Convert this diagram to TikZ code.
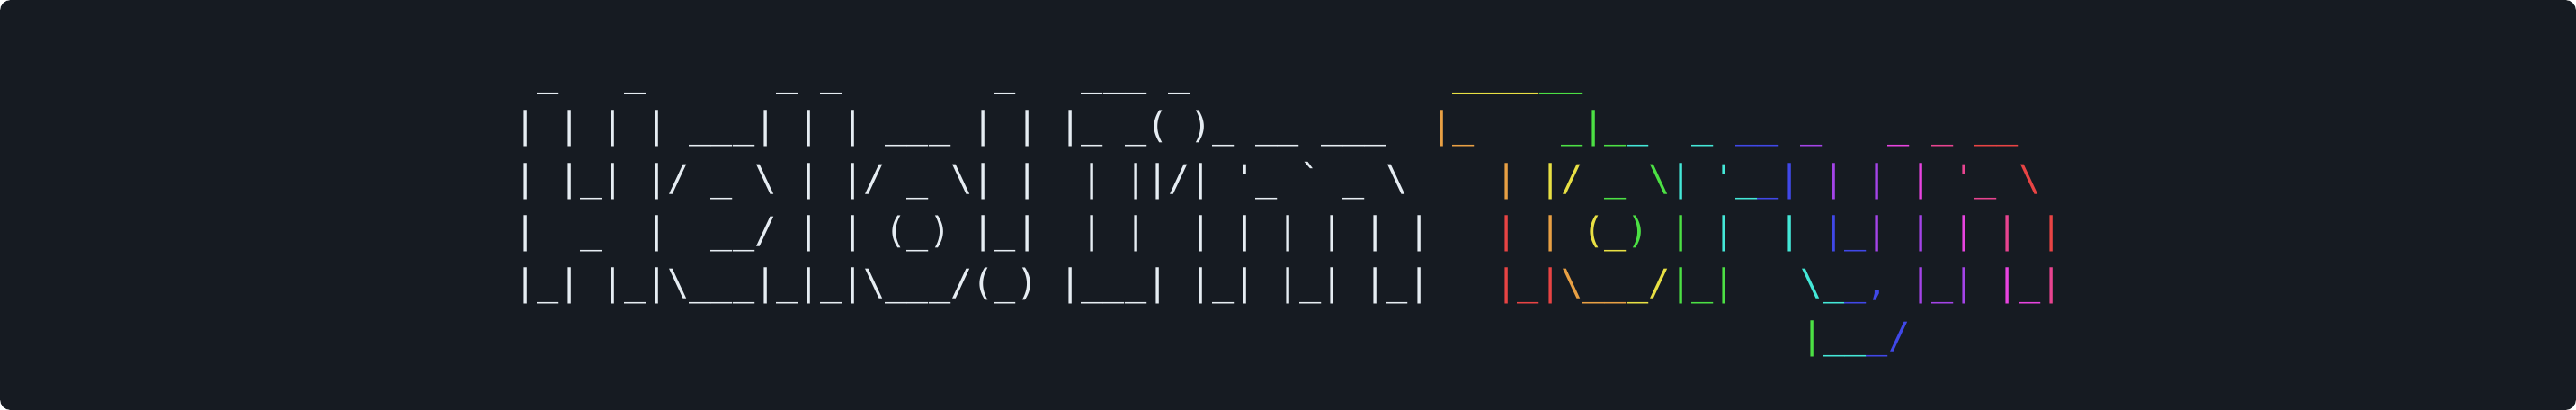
\documentclass[tikz,border=0pt]{standalone}
\usepackage{fontspec}
\setmonofont{DejaVu Sans Mono}
\definecolor{termbg}{HTML}{161B22}
\definecolor{termfg}{HTML}{E6EDF3}
\definecolor{rbred}{HTML}{E84444}
\definecolor{rborange}{HTML}{E8A044}
\definecolor{rbyellow}{HTML}{E8E044}
\definecolor{rbgreen}{HTML}{4CE044}
\definecolor{rbteal}{HTML}{44E8D8}
\definecolor{rbblue}{HTML}{4048E8}
\definecolor{rbpurple}{HTML}{A444E8}
\definecolor{rbmagenta}{HTML}{E844E0}
\definecolor{rbpink}{HTML}{E84490}
\newcommand{\bsl}{\textbackslash}
\newcommand{\cred}[1]{\textcolor{rbred}{#1}}
\newcommand{\corange}[1]{\textcolor{rborange}{#1}}
\newcommand{\cyellow}[1]{\textcolor{rbyellow}{#1}}
\newcommand{\cgreen}[1]{\textcolor{rbgreen}{#1}}
\newcommand{\cteal}[1]{\textcolor{rbteal}{#1}}
\newcommand{\cblue}[1]{\textcolor{rbblue}{#1}}
\newcommand{\cpurple}[1]{\textcolor{rbpurple}{#1}}
\newcommand{\cmagenta}[1]{\textcolor{rbmagenta}{#1}}
\newcommand{\cpink}[1]{\textcolor{rbpink}{#1}}
\begin{document}
\begin{tikzpicture}[ascii/.style={anchor=base west, inner sep=0pt, outer sep=0pt, text=termfg, font=\ttfamily\fontsize{11.45}{14}\selectfont}]
  \useasboundingbox (0,0) rectangle (28.65,-4.56);
  \fill[white] (0,0) rectangle (28.65,-4.56);
  \fill[termbg, rounded corners=0.12cm] (0,0) rectangle (28.65,-4.56);

  \node[ascii] (hello0) at (5.729,-0.955) {~\_~~~\_~~~~~~\_~\_~~~~~~~\_~~~\_\_\_~\_};
  \node[ascii] (hello1) at (5.729,-1.538) {|~|~|~|~\_\_\_|~|~|~\_\_\_~|~|~|\_~\_(~)\_~\_\_~\_\_\_};
  \node[ascii] (hello2) at (5.729,-2.122) {|~|\_|~|/~\_~\bsl~|~|/~\_~\bsl|~|~~|~||/|~'\_~`~\_~\bsl};
  \node[ascii] (hello3) at (5.729,-2.705) {|~~\_~~|~~\_\_/~|~|~(\_)~|\_|~~|~|~~|~|~|~|~|~|};
  \node[ascii] (hello4) at (5.729,-3.288) {|\_|~|\_|\bsl\_\_\_|\_|\_|\bsl\_\_\_/(\_)~|\_\_\_|~|\_|~|\_|~|\_|};

  \node[ascii] (toryn0) at (15.910,-0.955) {~\cyellow{\_\_\_\_}\cgreen{\_\_}};
  \node[ascii] (toryn1) at (15.910,-1.538) {\corange{|\_}~~~~\cgreen{\_|\_}\cteal{\_~~\_}~\cblue{\_\_}~\cpurple{\_}~~~\cmagenta{\_}~\cpink{\_}~\cred{\_\_}};
  \node[ascii] (toryn2) at (15.910,-2.122) {~~~\corange{|}~\cyellow{|/}~\cgreen{\_~\bsl}\cteal{|~'\_}\cblue{\_|}~\cpurple{|~|}~\cmagenta{|}~\cpink{'\_}~\cred{\bsl}};
  \node[ascii] (toryn3) at (15.910,-2.705) {~~~\cred{|}~\corange{|}~\cyellow{(\_}\cgreen{)~|}~\cteal{|~~|}~\cblue{|\_}\cpurple{|~|}~\cmagenta{|}~\cpink{|}~\cred{|}};
  \node[ascii] (toryn4) at (15.910,-3.288) {~~~\cred{|\_|}\corange{\bsl\_\_}\cyellow{\_/}\cgreen{|\_|}~~~\cteal{\bsl\_}\cblue{\_,}~\cpurple{|\_|}~\cmagenta{|\_}\cpink{|}};
  \node[ascii] (toryn5) at (20.031,-3.872) {\cgreen{|}\cteal{\_\_}\cblue{\_/}};
\end{tikzpicture}
\end{document}
